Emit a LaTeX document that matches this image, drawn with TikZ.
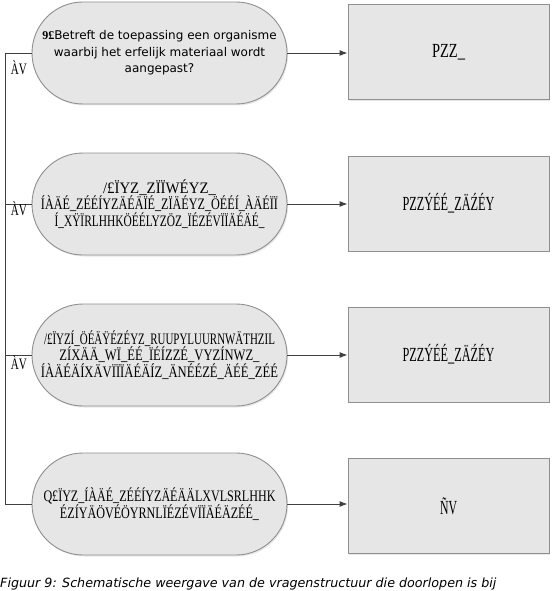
\documentclass[tikz,border=0pt]{standalone}
\usepackage{fontspec}
\usepackage{graphicx}
\setmainfont{Liberation Serif}
\newfontfamily\dejavu{DejaVu Sans}
\usetikzlibrary{shadows,arrows.meta}
\newcommand{\gw}[2]{\resizebox{#1pt}{\height}{#2}}
\definecolor{boxfill}{HTML}{E6E6E6}
\definecolor{boxline}{HTML}{8F8F8F}
\definecolor{conn}{HTML}{404040}
\tikzset{
  stadbase/.style={draw=boxline, fill=boxfill, line width=0.9pt, minimum width=255pt, minimum height=102pt,
    rounded corners=51pt, align=center, inner sep=0pt,
    drop shadow={opacity=0.18, shadow xshift=1.2pt, shadow yshift=-1.5pt}},
  stad/.style={stadbase, font=\fontsize{16}{13.6}\selectfont},
  stadtext/.style={stadbase, font=\dejavu\fontsize{12}{16.6}\selectfont},
  answer/.style={draw=boxline, fill=boxfill, line width=0.9pt, minimum width=201pt, minimum height=95pt,
    inner sep=0pt, drop shadow={opacity=0.18, shadow xshift=1.2pt, shadow yshift=-1.2pt},
    font=\fontsize{20}{22}\selectfont},
  conn/.style={draw=conn, line width=0.9pt},
  arr/.style={conn, -{Latex[length=8pt,width=6pt]}},
  lbl/.style={font=\fontsize{16}{18}\selectfont, inner sep=0pt}
}
\begin{document}
\begin{tikzpicture}[x=1pt,y=-1pt]
\useasboundingbox (0,0) rectangle (558,591);
% questions
\node[stadtext] (q1) at (159.5,53) {{\rmfamily\bfseries 9£}Betreft de toepassing een organisme\\waarbij het erfelijk materiaal wordt\\aangepast?};
\node[stad] (q2) at (159.5,204) {\gw{113}{/£ÏYZ\_ZÏÏWÉYZ\_}\\\gw{237}{ÍÀÄÉ\_ZÉÉÍYZÄÉÄÏÉ\_ZÏÄÉYZ\_ÖÉÉÍ\_ÀÄÉÏÏ}\\\gw{210}{Í\_XŸÏRLHHKÖÉÉLYZÖZ\_ÏÉZÉVÏÏÄÉÄÉ\_}};
\node[stad] (q3) at (159.5,355) {\gw{231}{/£ÏYZÍ\_ÖÉÄŸÉZÉYZ\_RUUPYLUURNWÄTHZIL}\\\gw{200}{ZÍXÄÄ\_WÏ\_ÉÉ\_ÏÉÍZZÉ\_VYZÍNWZ\_}\\\gw{237}{ÍÀÄÉÄÍXÄVÏÏÏÄÉÄÍZ\_ÄNÉÉZÉ\_ÄÉÉ\_ZÉÉ}};
\node[stad] (q4) at (159.5,504) {\gw{232}{Q£ÏYZ\_ÍÀÄÉ\_ZÉÉÍYZÄÉÄÄLXVLSRLHHK}\\\gw{199}{ÉZÍYÄÖVÉÖYRNLÏÉZÉVÏÏÄÉÄZÉÉ\_}};
% answers
\node[answer] (a1) at (448.5,52) {\gw{33}{PZZ\_}};
\node[answer] (a2) at (448.5,203.5) {\gw{92}{PZZÝÉÉ\_ZÄŹÉY}};
\node[answer] (a3) at (448.5,354.5) {\gw{92}{PZZÝÉÉ\_ZÄŹÉY}};
\node[answer] (a4) at (448.5,506) {\gw{17}{ÑV}};
% left bus
\coordinate (b1) at (5,53);
\coordinate (b2) at (5,204);
\coordinate (b3) at (5,355);
\coordinate (b4) at (5,504);
\draw[conn] (q1.west) -- (b1) -- (b4) -- (q4.west);
\draw[conn] (b2) -- (q2.west);
\draw[conn] (b3) -- (q3.west);
% arrows
\draw[arr] (q1.east) -- (q1.east -| a1.west);
\draw[arr] (q2.east) -- (q2.east -| a2.west);
\draw[arr] (q3.east) -- (q3.east -| a3.west);
\draw[arr] (q4.east) -- (q4.east -| a4.west);
% labels
\node[lbl] (l1) at (19,68) {\gw{16}{ÀV}};
\node[lbl] (l2) at (19,209) {\gw{16}{ÀV}};
\node[lbl] (l3) at (19,363) {\gw{16}{ÀV}};
% caption
\node[anchor=base west, inner sep=0pt, font=\dejavu\itshape\fontsize{12.7}{14}\selectfont] (cap) at (0,587.5) {Figuur 9: Schematische weergave van de vragenstructuur die doorlopen is bij};
\end{tikzpicture}
\end{document}
